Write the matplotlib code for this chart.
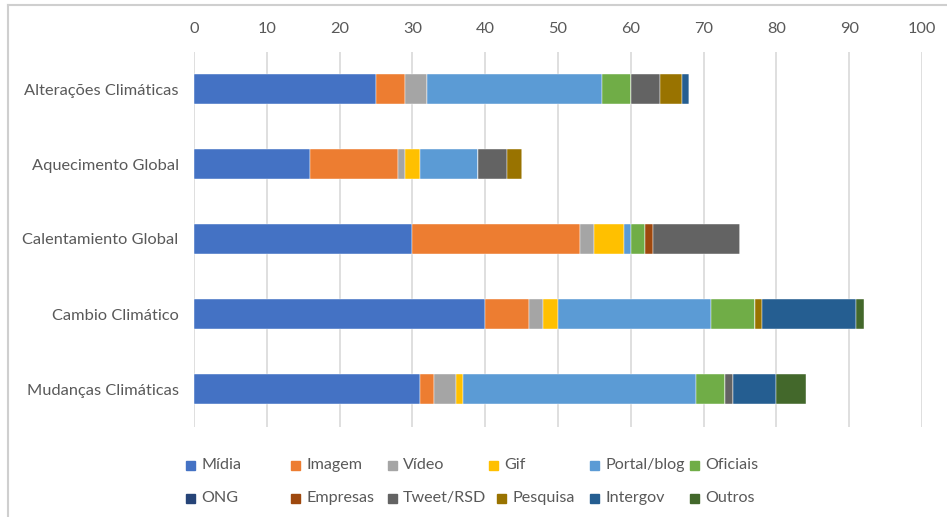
import matplotlib
matplotlib.use("Agg")
import matplotlib.pyplot as plt
from matplotlib.patches import Rectangle
from matplotlib.lines import Line2D

plt.rcParams['font.family'] = ['Lato', 'DejaVu Sans']

categories = ["Alterações Climáticas", "Aquecimento Global", "Calentamiento Global",
              "Cambio Climático", "Mudanças Climáticas"]
series_names = ["Mídia", "Imagem", "Vídeo", "Gif", "Portal/blog", "Oficiais",
                "ONG", "Empresas", "Tweet/RSD", "Pesquisa", "Intergov", "Outros"]
midia     = [25, 16, 30, 40, 31]
imagem    = [4, 12, 23, 6, 2]
video     = [3, 1, 2, 2, 3]
gif       = [0, 2, 4, 2, 1]
portal    = [24, 8, 1, 21, 32]
oficiais  = [4, 0, 2, 6, 4]
ong       = [0, 0, 0, 0, 0]
empresas  = [0, 0, 1, 0, 0]
tweet     = [4, 4, 12, 0, 1]
pesquisa  = [3, 2, 0, 1, 0]
intergov  = [1, 0, 0, 13, 6]
outros    = [0, 0, 0, 1, 4]
series_values = [midia, imagem, video, gif, portal, oficiais,
                 ong, empresas, tweet, pesquisa, intergov, outros]
xticks = [0, 10, 20, 30, 40, 50, 60, 70, 80, 90, 100]

colors = ["#4472C4", "#ED7D31", "#A5A5A5", "#FFC000", "#5B9BD5", "#70AD47",
          "#264478", "#9E480E", "#636363", "#997300", "#255E91", "#43682B"]
text_color = "#595959"

W, H = 947, 517
fig = plt.figure(figsize=(W / 100, H / 100), dpi=100)
ax = fig.add_axes([194 / W, 1 - 426.5 / H, (922 - 194) / W, (426.5 - 51.5) / H])

ypos = list(range(len(categories)))
left = [0] * len(categories)
for name, vals, c in zip(series_names, series_values, colors):
    ax.barh(ypos, vals, left=left, height=0.4, color=c, label=name,
            edgecolor='white', linewidth=0.3, zorder=3)
    left = [l + v for l, v in zip(left, vals)]

ax.set_xlim(0, 100)
ax.set_ylim(len(categories) - 0.5, -0.5)
ax.set_xticks(xticks)
ax.set_xticklabels([str(t) for t in xticks])
ax.xaxis.tick_top()
ax.set_yticks(ypos)
ax.set_yticklabels(categories)
ax.tick_params(axis='x', length=0, pad=11, labelsize=11.8, colors=text_color)
ax.tick_params(axis='y', length=0, pad=11, labelsize=11.8, colors=text_color)
ax.grid(axis='x', color='#D9D9D9', linewidth=1.2, zorder=0)
for s in ax.spines.values():
    s.set_visible(False)

# legend, manually laid out like the Excel one
leg_x = [190, 295, 392, 493, 594, 694]
leg_x2 = [190, 295, 392, 501, 594, 694]
leg_y = [465, 498]
for i, (name, c) in enumerate(zip(series_names, colors)):
    row = i // 6
    col = i % 6
    x = (leg_x if row == 0 else leg_x2)[col]
    y = leg_y[row]
    fig.add_artist(Rectangle(((x - 4.5) / W, 1 - (y + 4.5) / H), 9 / W, 9 / H,
                             transform=fig.transFigure, color=c))
    fig.text((x + 11) / W, 1 - y / H, name, fontsize=11.6, color=text_color,
             va='center', ha='left')

# partial outer border (top and left)
fig.add_artist(Line2D([8 / W, 1], [1 - 5 / H, 1 - 5 / H], transform=fig.transFigure,
                      color='#CFCFCF', linewidth=1.5))
fig.add_artist(Line2D([8 / W, 8 / W], [1 - 5 / H, 0], transform=fig.transFigure,
                      color='#CFCFCF', linewidth=1.5))

fig.savefig("out.png", dpi=100)
